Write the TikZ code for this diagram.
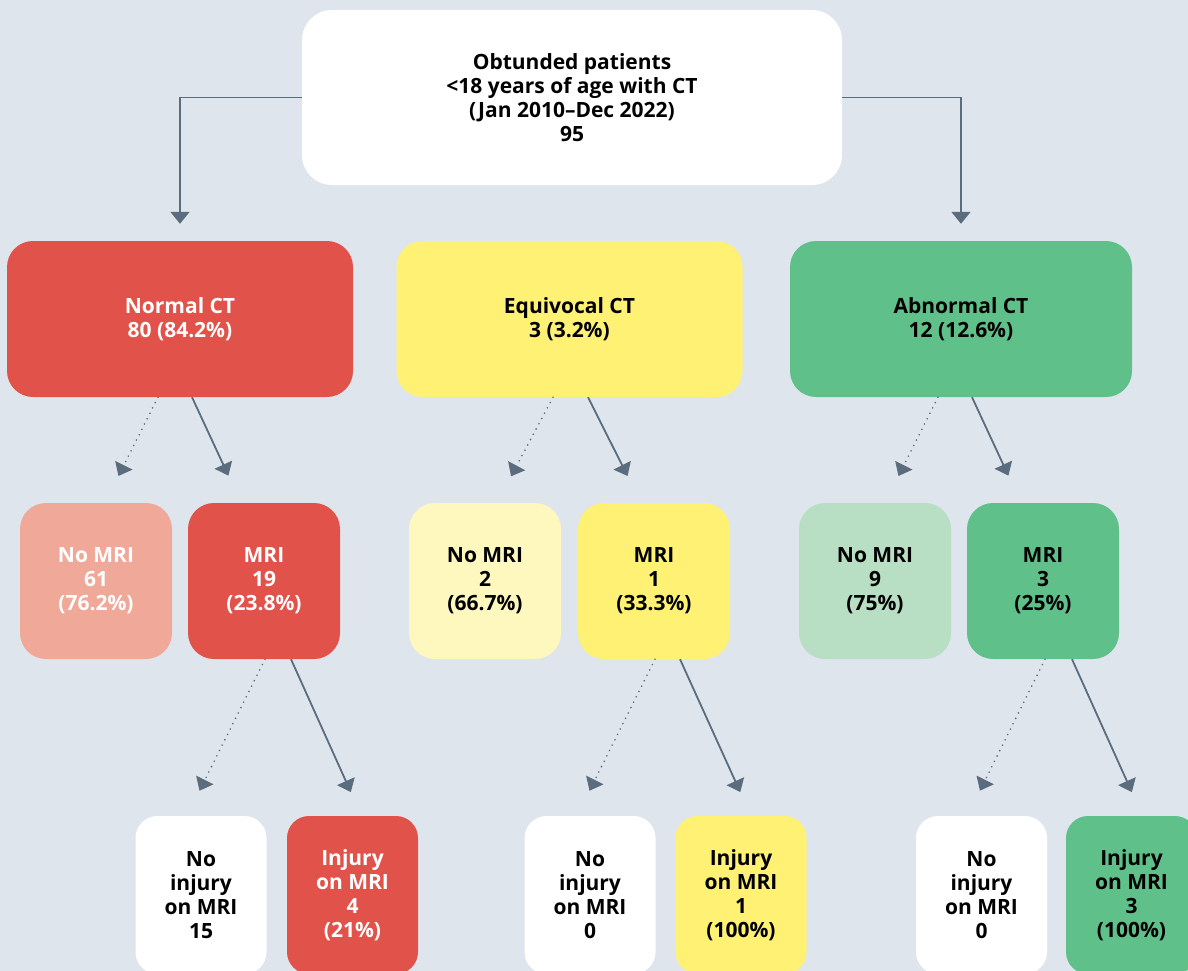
\documentclass[tikz,border=0pt]{standalone}
\usepackage{fontspec}
\setmainfont{Open Sans}
\usetikzlibrary{arrows.meta}
\definecolor{bgc}{HTML}{DFE5ED}
\definecolor{redc}{HTML}{E0524A}
\definecolor{redl}{HTML}{F0A898}
\definecolor{yelc}{HTML}{FEF174}
\definecolor{yell}{HTML}{FEF7BE}
\definecolor{grnc}{HTML}{60C08A}
\definecolor{grnl}{HTML}{B8DEC4}
\definecolor{linec}{HTML}{5A6C7D}
\tikzset{
  box/.style={rounded corners=26pt, align=center, inner sep=0pt, font=\bfseries\fontsize{21}{24}\selectfont},
  ctbox/.style={box, minimum width=346pt, minimum height=156pt},
  mribox/.style={box, minimum width=152pt, minimum height=156pt},
  endbox/.style={box, rounded corners=22pt, minimum width=131pt, minimum height=158pt},
  arr/.style={draw=linec, line width=1.8pt, -{Triangle[width=19pt,length=12pt]}},
  dotarr/.style={arr, dash pattern=on 0pt off 6pt, line cap=round}
}
\begin{document}
\begin{tikzpicture}[x=1pt,y=-1pt]
    \useasboundingbox (0,0) rectangle (1188,971);
    \fill[bgc] (0,0) rectangle (1188,971);
    % cohort
    \node[box, rounded corners=30pt, fill=white, minimum width=540pt, minimum height=175pt] (top) at (572,97.5) {Obtunded patients\\<18 years of age with CT\\(Jan 2010--Dec 2022)\\95};
    % CT result
    \node[ctbox, fill=redc, text=white] (normal) at (180,319) {Normal CT\\80 (84.2\%)};
    \node[ctbox, fill=yelc] (equiv) at (569.5,319) {Equivocal CT\\3 (3.2\%)};
    \node[ctbox, fill=grnc, minimum width=342pt] (abnormal) at (961,319) {Abnormal CT\\12 (12.6\%)};
    \draw[arr, shorten >=17pt] (top.west) -| (normal.north);
    \draw[arr, shorten >=17pt] (top.east) -| (abnormal.north);
    % MRI or not
    \node[mribox, fill=redl, text=white] (nomriN) at (96,581) {No MRI\\61\\(76.2\%)};
    \node[mribox, fill=redc, text=white] (mriN) at (264,581) {MRI\\19\\(23.8\%)};
    \node[mribox, fill=yell] (nomriE) at (485,581) {No MRI\\2\\(66.7\%)};
    \node[mribox, fill=yelc] (mriE) at (654,581) {MRI\\1\\(33.3\%)};
    \node[mribox, fill=grnl] (nomriA) at (875,581) {No MRI\\9\\(75\%)};
    \node[mribox, fill=grnc] (mriA) at (1043,581) {MRI\\3\\(25\%)};
    \draw[dotarr, shorten >=30pt] ([xshift=-22pt]normal.south) -- ([xshift=9pt]nomriN.north);
    \draw[arr, shorten >=30pt] ([xshift=12pt]normal.south) -- ([xshift=-23pt]mriN.north);
    \draw[dotarr, shorten >=30pt] ([xshift=-16.5pt]equiv.south) -- ([xshift=12pt]nomriE.north);
    \draw[arr, shorten >=30pt] ([xshift=18.5pt]equiv.south) -- ([xshift=-13pt]mriE.north);
    \draw[dotarr, shorten >=30pt] ([xshift=-23pt]abnormal.south) -- ([xshift=10pt]nomriA.north);
    \draw[arr, shorten >=30pt] ([xshift=11pt]abnormal.south) -- ([xshift=-22pt]mriA.north);
    % MRI findings
    \node[endbox, fill=white] (noinjN) at (201,895) {No\\injury\\on MRI\\15};
    \node[endbox, fill=redc, text=white] (injN) at (352.5,895) {Injury\\on MRI\\4\\(21\%)};
    \node[endbox, fill=white] (noinjE) at (590,895) {No\\injury\\on MRI\\0};
    \node[endbox, fill=yelc] (injE) at (741,895) {Injury\\on MRI\\1\\(100\%)};
    \node[endbox, fill=white] (noinjA) at (981.5,895) {No\\injury\\on MRI\\0};
    \node[endbox, fill=grnc] (injA) at (1131.5,895) {Injury\\on MRI\\3\\(100\%)};
    \draw[dotarr, shorten >=28pt] ([xshift=1pt]mriN.south) -- ([xshift=-14pt]noinjN.north);
    \draw[arr, shorten >=26pt] ([xshift=27pt]mriN.south) -- ([xshift=9pt]injN.north);
    \draw[dotarr, shorten >=28pt] ([xshift=1pt]mriE.south) -- ([xshift=-13pt]noinjE.north);
    \draw[arr, shorten >=26pt] ([xshift=26pt]mriE.south) -- ([xshift=10pt]injE.north);
    \draw[dotarr, shorten >=28pt] ([xshift=2pt]mriA.south) -- ([xshift=-14pt]noinjA.north);
    \draw[arr, shorten >=26pt] ([xshift=29pt]mriA.south) -- ([xshift=11pt]injA.north);
\end{tikzpicture}
\end{document}
